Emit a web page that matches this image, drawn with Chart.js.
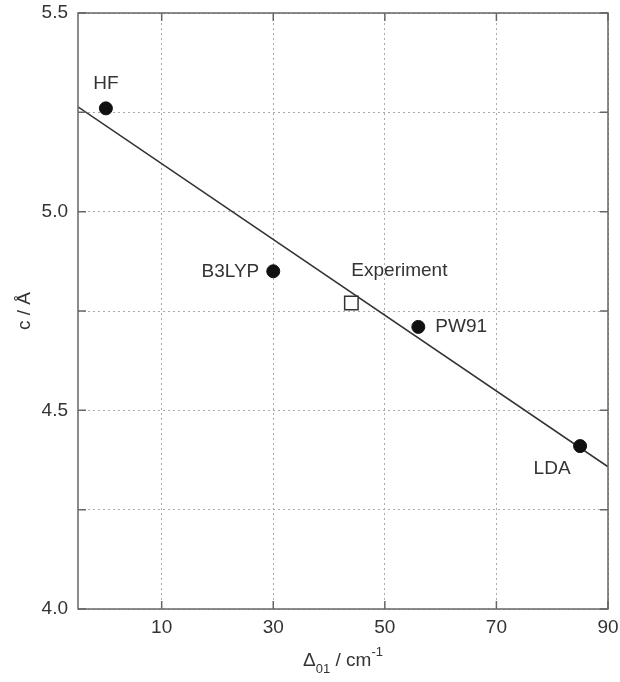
<!DOCTYPE html>
<html>
<head>
<meta charset="utf-8">
<title>c vs Delta01</title>
<script src="https://cdn.jsdelivr.net/npm/chart.js@4.4.1/dist/chart.umd.min.js"></script>
<style>
  html, body { margin: 0; padding: 0; background: #fff; }
  #wrap { width: 620px; height: 682px; }
</style>
</head>
<body>
<div id="wrap"><canvas id="chart"></canvas></div>
<script>
// data
const methodNames = ['HF', 'B3LYP', 'PW91', 'LDA'];
const methodDelta = [0, 30, 56, 85];
const methodC = [5.26, 4.85, 4.71, 4.41];
const experimentNames = ['Experiment'];
const experimentDelta = [44];
const experimentC = [4.77];
const fitDelta = [-5, 90];
const fitC = [5.264, 4.358];
const xTicks = [10, 30, 50, 70, 90];
const yTicks = [4.0, 4.25, 4.5, 4.75, 5.0, 5.25, 5.5];
const yLabelTicks = [4.0, 4.5, 5.0, 5.5];

const FONT = "'Liberation Sans', Arial, sans-serif";
const TEXT = '#333';
const FRAME = '#666';

// where each name sits relative to its marker
const labelPos = {
    HF: { dx: 0, dy: -25, align: 'center' },
    B3LYP: { dx: -14, dy: 0, align: 'right' },
    PW91: { dx: 17, dy: 0, align: 'left' },
    LDA: { dx: -28, dy: 23, align: 'center' },
    Experiment: { dx: 0, dy: -32, align: 'left' }
};

const toPoints = (xs, ys) => xs.map((x, i) => ({ x: x, y: ys[i] }));

// frame with inward ticks, point names and axis titles
const decorPlugin = {
    id: 'decor',
    afterDraw(chart) {
        const ctx = chart.ctx;
        const a = chart.chartArea;
        const xs = chart.scales.x, ys = chart.scales.y;
        ctx.save();

        ctx.strokeStyle = FRAME;
        ctx.lineWidth = 1.5;
        ctx.strokeRect(a.left, a.top, a.right - a.left, a.bottom - a.top);
        const tl = 8;
        ctx.beginPath();
        xTicks.forEach(v => {
            const px = xs.getPixelForValue(v);
            ctx.moveTo(px, a.bottom); ctx.lineTo(px, a.bottom - tl);
            ctx.moveTo(px, a.top); ctx.lineTo(px, a.top + tl);
        });
        yTicks.forEach(v => {
            const py = ys.getPixelForValue(v);
            ctx.moveTo(a.left, py); ctx.lineTo(a.left + tl, py);
            ctx.moveTo(a.right, py); ctx.lineTo(a.right - tl, py);
        });
        ctx.stroke();

        // point names
        ctx.fillStyle = TEXT;
        ctx.font = '19px ' + FONT;
        ctx.textBaseline = 'middle';
        const names = methodNames.concat(experimentNames);
        const dx = methodDelta.concat(experimentDelta);
        const cy = methodC.concat(experimentC);
        names.forEach((n, i) => {
            const p = labelPos[n];
            ctx.textAlign = p.align;
            ctx.fillText(n, xs.getPixelForValue(dx[i]) + p.dx, ys.getPixelForValue(cy[i]) + p.dy);
        });

        // y title
        ctx.save();
        ctx.translate(25, (a.top + a.bottom) / 2);
        ctx.rotate(-Math.PI / 2);
        ctx.textAlign = 'center';
        ctx.fillText('c / Å', 0, 0);
        ctx.restore();

        // x title with sub/superscript
        const parts = [
            { t: 'Δ', size: 19, off: 0 },
            { t: '01', size: 13, off: 8 },
            { t: ' / cm', size: 19, off: 0 },
            { t: '-1', size: 13, off: -9 }
        ];
        let total = 0;
        parts.forEach(p => { ctx.font = p.size + 'px ' + FONT; p.w = ctx.measureText(p.t).width; total += p.w; });
        let x = (a.left + a.right) / 2 - total / 2;
        const baseY = 661;
        ctx.textAlign = 'left';
        parts.forEach(p => {
            ctx.font = p.size + 'px ' + FONT;
            ctx.fillText(p.t, x, baseY + p.off);
            x += p.w;
        });

        ctx.restore();
    }
};

const ctx = document.getElementById('chart').getContext('2d');
new Chart(ctx, {
    type: 'scatter',
    data: {
        datasets: [{
            label: 'Methods',
            data: toPoints(methodDelta, methodC),
            backgroundColor: '#111',
            borderColor: '#111',
            pointRadius: 6.5,
            order: 0
        }, {
            label: 'Experiment',
            data: toPoints(experimentDelta, experimentC),
            pointStyle: 'rect',
            backgroundColor: '#fff',
            borderColor: '#333',
            borderWidth: 1.5,
            pointRadius: 9.5,
            order: 0
        }, {
            label: 'Fit',
            data: toPoints(fitDelta, fitC),
            showLine: true,
            pointRadius: 0,
            borderColor: '#333',
            borderWidth: 1.5,
            order: 2
        }]
    },
    options: {
        responsive: true,
        maintainAspectRatio: false,
        animation: false,
        layout: { padding: { top: 13, right: 12, left: 0, bottom: 0 } },
        scales: {
            x: {
                type: 'linear',
                min: -5,
                max: 90,
                afterBuildTicks: scale => { scale.ticks = xTicks.map(v => ({ value: v })); },
                afterFit: scale => {
                    scale.height = 73;
                    scale.paddingLeft = 0;
                    scale.paddingRight = 0;
                },
                grid: { color: '#aaa', lineWidth: 1, drawTicks: false },
                border: { display: false, dash: [2, 3] },
                ticks: {
                    padding: 7,
                    color: TEXT,
                    font: { family: FONT, size: 19 },
                    maxRotation: 0,
                    callback: v => String(v)
                }
            },
            y: {
                type: 'linear',
                min: 4.0,
                max: 5.5,
                afterBuildTicks: scale => { scale.ticks = yTicks.map(v => ({ value: v })); },
                afterFit: scale => {
                    scale.width = 78;
                    scale.paddingTop = 0;
                    scale.paddingBottom = 0;
                },
                grid: { color: '#aaa', lineWidth: 1, drawTicks: false },
                border: { display: false, dash: [2, 3] },
                ticks: {
                    padding: 10,
                    color: TEXT,
                    font: { family: FONT, size: 19 },
                    callback: v => yLabelTicks.includes(v) ? v.toFixed(1) : ''
                }
            }
        },
        plugins: {
            legend: { display: false },
            tooltip: { enabled: false }
        }
    },
    plugins: [decorPlugin]
});
</script>
</body>
</html>
